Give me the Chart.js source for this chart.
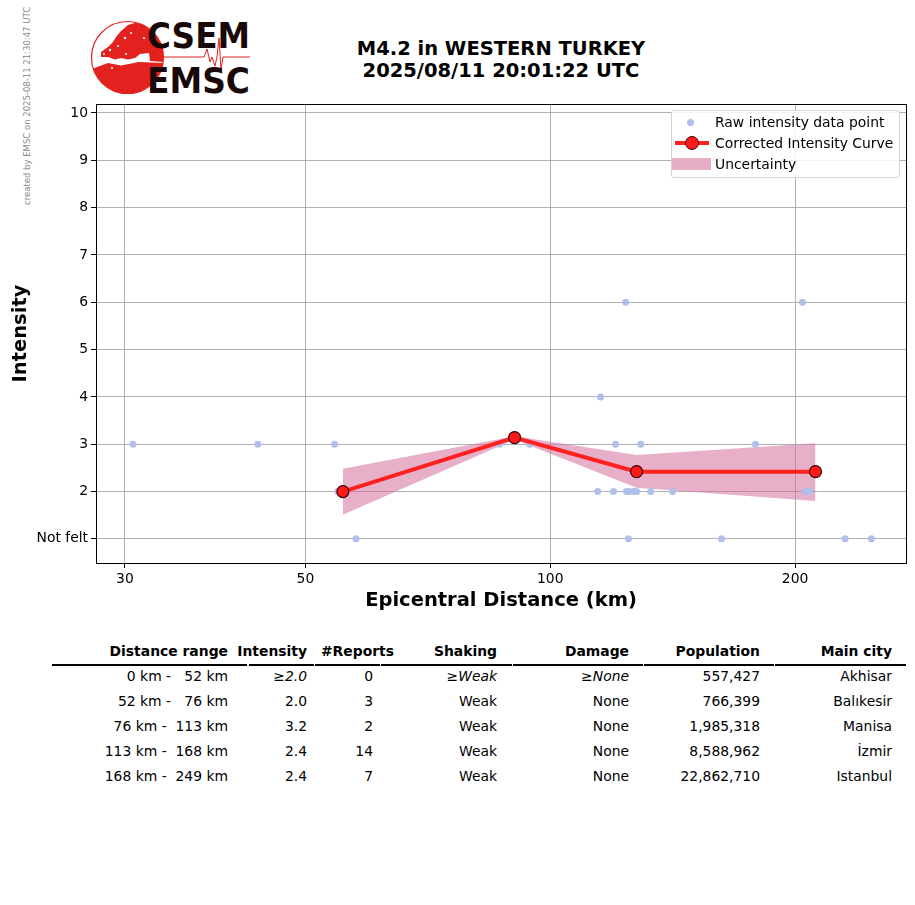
<!DOCTYPE html>
<html>
<head>
<meta charset="utf-8">
<script src="https://cdn.jsdelivr.net/npm/chart.js@4.4.1/dist/chart.umd.min.js"></script>
<style>
  body { margin: 0; background: #fff; font-family: "DejaVu Sans", sans-serif; }
  #page { position: relative; width: 915px; height: 905px; overflow: hidden; }
  #chartBox { position: absolute; left: 0; top: 91px; width: 915px; height: 530px; }
  .title { position: absolute; left: 251px; width: 500px; text-align: center; font-weight: bold; font-size: 19.5px; }
  #stamp { position: absolute; left: 22px; top: 205px; transform-origin: 0 0; transform: rotate(-90deg);
           font-size: 8.5px; color: #888; white-space: nowrap; }
  #legend { position: absolute; left: 671px; top: 110px; width: 227px; height: 66px; border: 1px solid #d6d6d6;
            border-radius: 3px; background: rgba(255,255,255,0.85); font-size: 13.9px; }
  #legend .row { position: absolute; left: 43px; white-space: nowrap; }
  .cell { position: absolute; font-size: 13.9px; white-space: pre; text-align: right; }
  .hd { font-weight: bold; }
  .it { font-style: italic; }
  .rule { position: absolute; top: 664px; height: 1.6px; background: #000; }
</style>
</head>
<body>
<div id="page">

  <!-- logo -->
  <svg style="position:absolute;left:0;top:0" width="260" height="100">
    <defs><clipPath id="globe"><circle cx="127.5" cy="57.5" r="36"/></clipPath></defs>
    <g clip-path="url(#globe)">
      <g fill="#e3221f">
        <polygon points="101,52 108,47 113,42 116,37 121,31 128,25 138,22 152,26 166,34 166,62 150,61 149,53 140,54 135,58 128,59.5 121,58 115,59.5 108,57 101,57"/>
        <polygon points="97,67 108,63 121,65.5 134,63 138,62 166,63 166,100 90,100 90,70"/>
      </g>
      <g fill="#fff">
        <circle cx="110" cy="50" r="1.2"/><circle cx="118" cy="46" r="1"/><circle cx="125" cy="38" r="1.2"/>
        <circle cx="131" cy="33" r="1"/><circle cx="126" cy="54" r="1"/><circle cx="104" cy="54" r="1"/>
        <circle cx="144" cy="38" r="1"/><circle cx="112" cy="68" r="1"/>
      </g>
    </g>
    <circle cx="127.5" cy="57.5" r="36" fill="none" stroke="#e3221f" stroke-width="1.2"/>
    <polyline fill="none" stroke="#e3221f" stroke-width="1" points="163,57 204,57 207,49 210,62 212,57 215,66 217,57 219,38 221,70 223,57 250,57"/>
    <text x="147" y="48" font-family="DejaVu Sans" font-weight="bold" font-size="35" fill="#1a0808" textLength="103" lengthAdjust="spacingAndGlyphs">CSEM</text>
    <text x="147" y="93" font-family="DejaVu Sans" font-weight="bold" font-size="35" fill="#1a0808" textLength="103" lengthAdjust="spacingAndGlyphs">EMSC</text>
  </svg>

  <div id="stamp">created by EMSC on 2025-08-11 21:30:47 UTC</div>
  <div class="title" style="top:37px">M4.2 in WESTERN TURKEY</div>
  <div class="title" style="top:59px">2025/08/11 20:01:22 UTC</div>

  <div id="chartBox"><canvas id="myChart"></canvas></div>

  <div id="legend">
    <div style="position:absolute;left:15px;top:8px;width:7px;height:7px;border-radius:50%;background:#b0c0ea"></div>
    <div class="row" style="top:3px">Raw intensity data point</div>
    <div style="position:absolute;left:3px;top:30px;width:34px;height:4px;background:#ff2020"></div>
    <div style="position:absolute;left:13px;top:25px;width:12px;height:12px;border-radius:50%;background:#ff1a1a;border:1px solid #300"></div>
    <div class="row" style="top:24px">Corrected Intensity Curve</div>
    <div style="position:absolute;left:0;top:47px;width:39px;height:12px;background:#e8adc6"></div>
    <div class="row" style="top:45px">Uncertainty</div>
  </div>

  <div id="table"></div>
</div>

<script>
/******************** Data ********************/

// raw reports: distance (km) and intensity
var rawDist = [30.7, 43.7, 54.3, 54.8, 57.7, 86.6, 94.4, 114.4, 115.3, 119.6, 120.3, 123.8, 124.1, 125.0,
               124.8, 126.6, 127.7, 129.2, 132.9, 141.4, 162.4, 178.8, 204.2, 205.9, 207.0, 208.3, 230.5, 248.2];
var rawInt  = [3, 3, 3, 2, 1, 3, 3, 2, 4, 2, 3, 6, 2, 2,
               1, 2, 2, 3, 2, 2, 1, 3, 6, 2, 2, 2, 1, 1];

// corrected curve and its uncertainty band
var curveDist  = [55.6, 90.4, 127.7, 211.9];
var curveInt   = [2.0, 3.14, 2.42, 2.42];
var upperBand  = [2.48, 3.17, 2.77, 3.02];
var lowerBand  = [1.51, 3.10, 2.08, 1.80];

var xTicks = [30, 50, 100, 200];
var yTicks = [1, 2, 3, 4, 5, 6, 7, 8, 9, 10];
var yTickLabels = ["Not felt", "2", "3", "4", "5", "6", "7", "8", "9", "10"];

// table
var tableHead  = ["Distance range", "Intensity", "#Reports", "Shaking", "Damage", "Population", "Main city"];
var distRanges = ["0 km -   52 km", "52 km -   76 km", "76 km -  113 km", "113 km -  168 km", "168 km -  249 km"];
var intensities = ["\u22652.0", "2.0", "3.2", "2.4", "2.4"];
var reports    = ["0", "3", "2", "14", "7"];
var shaking    = ["\u2265Weak", "Weak", "Weak", "Weak", "Weak"];
var damage     = ["\u2265None", "None", "None", "None", "None"];
var population = ["557,427", "766,399", "1,985,318", "8,588,962", "22,862,710"];
var cities     = ["Akhisar", "Bal\u0131kesir", "Manisa", "\u0130zmir", "Istanbul"];


/******************** Chart ********************/

function pts(xs, ys) {
  return xs.map(function(x, i) { return {x: x, y: ys[i]}; });
}

var frame = {
  id: "frame",
  afterDraw: function(chart) {
    var a = chart.chartArea, c = chart.ctx;
    c.save();
    c.strokeStyle = "#000";
    c.lineWidth = 1;
    c.strokeRect(a.left + 0.5, a.top + 0.5, a.right - a.left, a.bottom - a.top);
    c.restore();
  }
};

var tickFont = {family: "DejaVu Sans", size: 13.9};
var titleFont = {family: "DejaVu Sans", size: 19.5, weight: "bold"};

new Chart("myChart", {
  type: "scatter",
  data: {
    datasets: [
      {
        label: "Raw intensity data point",
        data: pts(rawDist, rawInt),
        backgroundColor: "#b0c0ea",
        borderWidth: 0,
        pointRadius: 3.5,
        order: 2
      },
      {
        label: "upper",
        data: pts(curveDist, upperBand),
        showLine: true,
        borderWidth: 0,
        borderColor: "rgba(0,0,0,0)",
        pointRadius: 0,
        fill: false,
        order: 4
      },
      {
        label: "Uncertainty",
        data: pts(curveDist, lowerBand),
        showLine: true,
        borderWidth: 0,
        borderColor: "rgba(0,0,0,0)",
        backgroundColor: "rgba(214,110,155,0.55)",
        pointRadius: 0,
        fill: "-1",
        order: 3
      },
      {
        label: "Corrected Intensity Curve",
        data: pts(curveDist, curveInt),
        showLine: true,
        borderColor: "#ff2020",
        borderWidth: 4,
        pointRadius: 6,
        pointBackgroundColor: "#ff1a1a",
        pointBorderColor: "#300",
        pointBorderWidth: 1.2,
        order: 1
      }
    ]
  },
  plugins: [frame],
  options: {
    responsive: true,
    maintainAspectRatio: false,
    animation: false,
    layout: {padding: {top: 13, right: 9, left: 0, bottom: 0}},
    plugins: {legend: {display: false}, tooltip: {enabled: false}},
    scales: {
      x: {
        type: "logarithmic",
        min: 27.64,
        max: 273.8,
        afterBuildTicks: function(s) { s.ticks = xTicks.map(function(v) { return {value: v}; }); },
        afterFit: function(s) { s.height = 58; },
        ticks: {color: "#000", font: tickFont, padding: 3, maxRotation: 0,
                callback: function(v) { return String(v); }},
        grid: {color: "#b0b0b0", lineWidth: 1, tickColor: "#000", tickLength: 5},
        border: {color: "#000"},
        title: {display: true, text: "Epicentral Distance (km)", color: "#000", font: titleFont,
                padding: {top: 0, bottom: 8}}
      },
      y: {
        min: 0.49,
        max: 10.19,
        afterBuildTicks: function(s) { s.ticks = yTicks.map(function(v) { return {value: v}; }); },
        afterFit: function(s) { s.width = 96; },
        ticks: {color: "#000", font: tickFont, padding: 3,
                callback: function(v) { return yTickLabels[yTicks.indexOf(v)]; }},
        grid: {color: "#b0b0b0", lineWidth: 1, tickColor: "#000", tickLength: 5},
        border: {color: "#000"},
        title: {display: true, text: "Intensity", color: "#000", font: titleFont,
                padding: {top: 9, bottom: 9}}
      }
    }
  }
});


/******************** Table ********************/

var headRight = [228, 307, 394, 497, 629, 760, 892];
var colRight  = [228, 307, 373, 497, 629, 760, 892];
var colEdges  = [52, 248, 314, 380, 512, 643, 774, 906];
var italicCols = [1, 3, 4];
var columns = [distRanges, intensities, reports, shaking, damage, population, cities];
var html = "";

for (var c = 0; c < tableHead.length; c++) {
  html += '<div class="cell hd" style="right:' + (915 - headRight[c]) + 'px;top:643px">' + tableHead[c] + '</div>';
  html += '<div class="rule" style="left:' + (colEdges[c] + (c ? 1 : 0)) + 'px;width:' + (colEdges[c + 1] - colEdges[c] - 1) + 'px"></div>';
  for (var r = 0; r < distRanges.length; r++) {
    var cls = (r == 0 && italicCols.indexOf(c) >= 0) ? "cell it" : "cell";
    html += '<div class="' + cls + '" style="right:' + (915 - colRight[c]) + 'px;top:' + (668 + r * 25) + 'px">' + columns[c][r] + '</div>';
  }
}
document.getElementById("table").innerHTML = html;
</script>
</body>
</html>
